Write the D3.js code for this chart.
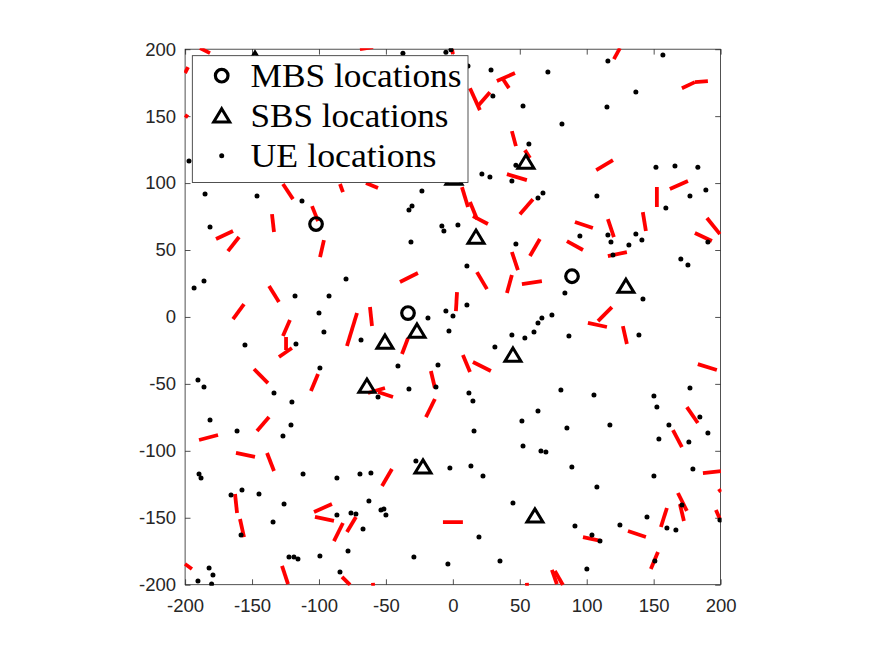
<!DOCTYPE html>
<html><head><meta charset="utf-8">
<script src="https://cdn.jsdelivr.net/npm/d3@7"></script>
<style>body{margin:0;background:#fff}svg{display:block}</style>
</head><body>
<svg id="chart" width="875" height="657"></svg>
<script>
const xTickValues = [-200,-150,-100,-50,0,50,100,150,200];
const yTickValues = [-200,-150,-100,-50,0,50,100,150,200];
const legendLabels = ["MBS locations","SBS locations","UE locations"];

const mbsLocations = [[-102.2,69.4],[-33.5,2.9],[89.0,30.4]];
const sbsLocations = [[54.6,115.7],[17.3,59.7],[-26.8,-10.5],[-50.7,-18.7],[44.9,-28.4],
  [-64.2,-51.6],[-22.3,-112.0],[61.3,-148.6],[129.3,23.0],[0.8,103.7],[-147.8,192.6]];
const ueLocations = [
  [-197.1,116.4],[-185.1,91.8],[-146.3,90.3],[-112.7,86.6],[-181.4,67.1],
  [-37.3,197.0],[-5.2,197.8],[-1.4,199.5],[11.3,187.4],[28.5,184.4],[29.9,165.0],
  [52.4,157.5],[56.8,129.1],[47.1,113.4],[21.7,106.7],[27.7,104.5],[44.1,101.5],
  [-23.1,94.0],[-30.5,82.8],[-32.8,79.8],[-8.2,67.9],[-6.7,64.2],[3.8,68.6],[63.6,88.8],[67.3,92.5],
  [115.8,191.1],[156.9,195.6],[71.0,182.9],[136.7,168.0],[115.1,156.8],[81.5,144.1],
  [151.7,111.9],[165.9,112.7],[183.0,111.9],[189.0,94.8],[177.1,90.3],[159.1,81.3],[107.6,90.3],
  [-193.3,21.6],[-185.9,26.8],[-117.9,15.6],[-92.5,15.6],[-79.8,28.3],[-100.0,2.9],
  [-96.3,-11.3],[-155.3,-21.0],[-117.2,-20.2],[-68.6,-17.3],[-99.3,-38.2],
  [-190.4,-47.1],[-185.9,-52.4],[-133.6,-56.8],[-120.2,-63.6],
  [-31.3,55.9],[47.1,54.4],[10.5,38.0],[10.5,8.9],[-5.2,4.4],[0.1,0.7],[-18.6,-0.8],
  [-2.9,-10.5],[44.1,-13.5],[53.8,-15.8],[60.6,-11.3],[63.6,-4.6],[66.5,-0.8],
  [31.4,-22.5],[-41.0,-36.7],[-11.1,-35.9],[-32.8,-53.8],[-12.6,-52.4],[-55.9,-59.8],
  [12.0,-56.8],[15.0,-62.8],
  [94.9,60.4],[115.8,61.2],[118.1,55.9],[136.7,61.9],[141.2,57.4],[131.5,53.7],[119.6,46.2],
  [190.5,55.9],[170.3,43.2],[175.6,38.8],[83.7,17.8],[74.0,1.4],[142.0,13.4],[86.7,-14.3],
  [139.0,-13.5],[80.7,-54.6],[105.4,-58.3],[150.2,-59.1],[177.1,-53.1],[152.4,-67.3],
  [-181.4,-77.0],[-161.2,-85.2],[-120.9,-80.7],[-126.9,-88.9],[-189.6,-117.3],[-188.1,-120.3],
  [-111.9,-117.3],[-86.6,-120.3],[-69.4,-117.3],[-165.7,-133.0],[-157.5,-129.3],[-144.8,-132.2],
  [-126.1,-139.7],[-134.3,-153.2],[-158.2,-162.9],[-86.6,-147.9],[-76.1,-146.4],[-72.4,-147.2],
  [-67.1,-158.4],[-78.3,-174.8],[-122.4,-179.3],[-118.7,-179.3],[-115.7,-180.8],[-99.3,-178.6],
  [-182.1,-187.5],[-179.2,-192.7],[-190.4,-197.2],[-180.2,-199.5],[-84.3,-190.5],
  [-61.2,-116.6],[-27.6,-107.6],[-2.2,-112.8],[13.5,-111.3],[22.5,-118.8],[15.8,-85.2],
  [51.6,-77.7],[63.6,-70.3],[52.4,-96.4],[65.8,-100.1],[69.5,-100.9],[-62.7,-137.5],
  [-53.7,-144.2],[-51.5,-143.4],[-50.0,-147.9],[44.9,-139.0],[19.5,-164.4],[-29.1,-179.3],
  [-3.7,-184.5],[35.2,-182.3],
  [184.5,-74.8],[161.4,-80.7],[85.2,-83.0],[117.3,-80.7],[190.5,-86.7],[153.9,-91.2],
  [176.3,-93.4],[88.9,-112.1],[179.3,-113.6],[150.2,-118.8],[107.6,-127.0],[171.1,-140.5],
  [145.0,-149.4],[159.9,-157.7],[166.6,-159.1],[91.2,-156.2],[103.9,-162.9],[109.9,-167.4],
  [124.8,-155.4],[199.5,-151.7],[150.9,-182.3],[100.1,-188.3]
];
// red dashed boundary pieces: [x1, y1, x2, y2]
const boundaryDashes = [
  [-188.9,200.8,-181.4,197.1],[-197.8,186.6,-200.1,182.2],[-200.1,150.8,-197.8,149.3],
  [-126.9,99.3,-119.4,88.0],[-84.3,99.3,-82.1,93.3],[-105.2,82.8,-100.7,71.6],[-135.1,76.8,-133.6,63.4],
  [-69.4,200.1,-59.6,201.6],[-0.7,200.1,0.1,196.3],[32.9,176.2,46.4,182.2],[37.4,177.7,41.9,170.9],
  [12.8,170.9,20.2,154.5],[18.7,157.5,27.7,167.9],[44.1,138.8,47.1,127.6],[40.4,106.7,55.3,102.2],
  [53.8,124.6,57.6,118.7],[6.8,97.0,11.3,82.1],[12.8,85.8,18.0,73.1],[15.0,75.3,26.2,69.4],
  [50.1,76.8,59.8,88.0],[-64.9,100.0,-55.9,96.3],
  [120.3,192.6,124.8,200.8],[171.1,170.9,180.8,175.4],[180.8,175.4,190.5,176.2],
  [107.1,109.7,119.6,117.2],[162.1,95.5,175.6,101.5],[152.4,97.0,152.4,82.1],[141.9,78.3,144.2,64.2],
  [91.2,70.9,104.6,66.4],[115.8,73.1,120.3,59.7],[189.8,73.9,199.5,61.9],
  [-176.9,58.2,-164.2,64.2],[-168.0,49.2,-159.7,59.7],[-99.2,44.7,-96.3,57.4],[-137.3,23.1,-129.9,11.1],
  [-164.2,-1.6,-156.0,9.6],[-121.7,-2.3,-126.9,-14.3],[-124.6,-15.0,-124.6,-24.7],[-129.9,-29.9,-120.2,-23.2],
  [-71.6,2.9,-79.1,-21.7],[-148.5,-38.9,-138.1,-49.4],[-100.7,-42.6,-106.0,-55.3],
  [-39.5,26.1,-26.1,32.8],[18.0,33.5,25.5,20.8],[44.1,48.5,48.6,35.0],[57.6,45.5,65.0,58.2],
  [40.4,17.9,44.1,31.3],[51.6,24.6,66.5,26.8],[3.1,18.6,2.3,4.4],[-61.9,7.4,-60.4,-6.8],
  [-38.0,-27.7,-33.5,-15.8],[7.5,-28.4,12.8,-41.1],[15.0,-33.7,28.4,-40.4],[-16.4,-40.4,-13.4,-53.1],
  [-20.1,-74.8,-13.4,-61.3],[-63.4,-56.8,-50.7,-53.1],[-55.9,-56.1,-44.7,-59.8],
  [180.8,62.7,193.5,56.7],[85.2,56.7,97.2,50.0],[115.8,45.5,130.0,48.5],[108.4,-3.1,118.8,7.4],
  [100.9,-4.5,115.1,-7.5],[127.0,-6.8,130.0,-20.2],[183.0,-35.2,197.2,-39.6],
  [-146.3,-85.2,-137.3,-74.8],[-189.6,-91.9,-175.4,-88.2],[-162.0,-101.6,-147.8,-104.6],
  [-138.8,-101.6,-133.6,-115.1],[-162.7,-132.3,-161.2,-146.4],[-159.0,-150.9,-156.0,-164.4],
  [-103.7,-145.7,-90.3,-139.7],[-103.0,-149.4,-88.8,-152.4],[-82.1,-153.9,-88.8,-167.4],
  [-72.4,-149.4,-79.1,-160.6],[-200.1,-184.5,-194.9,-188.3],[-127.6,-186.0,-123.1,-199.5],
  [-82.8,-194.2,-76.8,-200.2],[-52.9,-126.3,-45.5,-113.6],[-7.4,-153.2,7.5,-153.2],
  [-59.7,-198.7,-59.5,-201.0],[55.3,-198.7,55.5,-201.0],
  [174.8,-67.3,183.0,-79.2],[164.4,-84.5,171.1,-97.2],[186.8,-116.6,200.2,-115.1],
  [198.7,-128.5,200.2,-130.8],[168.1,-131.5,174.8,-144.9],[169.6,-139.7,172.6,-152.4],
  [159.9,-142.7,155.4,-156.9],[196.5,-144.2,199.5,-150.9],[130.8,-159.9,144.2,-164.4],
  [97.2,-164.4,111.3,-167.4],[153.2,-175.6,147.9,-188.3],[74.0,-189.0,77.7,-199.5],
  [76.2,-189.8,82.2,-200.2]
];

const svg = d3.select("#chart");
const pLeft = 185.1, pRight = 720.6, pTop = 49.2, pBottom = 584.7;
const x = d3.scaleLinear().domain([-200,200]).range([pLeft,pRight]);
const y = d3.scaleLinear().domain([-200,200]).range([pBottom,pTop]);
const axisColor = "#262626";
const tickLen = 5.4;

svg.append("defs").append("clipPath").attr("id","clip")
  .append("rect").attr("x",pLeft-1).attr("y",pTop-1).attr("width",pRight-pLeft+2).attr("height",pBottom-pTop+2);

svg.append("rect").attr("x",pLeft).attr("y",pTop).attr("width",pRight-pLeft).attr("height",pBottom-pTop)
  .attr("fill","#fff").attr("stroke","none");

function styleAxis(g, showLabels){
  g.select(".domain").remove();
  g.selectAll(".tick line").attr("stroke",axisColor).attr("stroke-width",0.8);
  g.selectAll(".tick text").attr("fill",axisColor)
    .style("font-family","'Liberation Sans', Arial, sans-serif").style("font-size","18.5px");
  if(!showLabels) g.selectAll(".tick text").remove();
}
const fmt = d => d < 0 ? "-" + Math.abs(d) : String(d);
svg.append("g").attr("transform",`translate(0,${pBottom})`)
  .call(d3.axisBottom(x).tickValues(xTickValues).tickSize(-tickLen).tickPadding(14).tickFormat(fmt))
  .call(g=>styleAxis(g,true));
svg.append("g").attr("transform",`translate(0,${pTop})`)
  .call(d3.axisTop(x).tickValues(xTickValues).tickSize(-tickLen).tickFormat(fmt))
  .call(g=>styleAxis(g,false));
svg.append("g").attr("transform",`translate(${pLeft},0)`)
  .call(d3.axisLeft(y).tickValues(yTickValues).tickSize(-tickLen).tickPadding(9).tickFormat(fmt))
  .call(g=>styleAxis(g,true));
svg.append("g").attr("transform",`translate(${pRight},0)`)
  .call(d3.axisRight(y).tickValues(yTickValues).tickSize(-tickLen).tickFormat(fmt))
  .call(g=>styleAxis(g,false));

svg.append("rect").attr("x",pLeft).attr("y",pTop).attr("width",pRight-pLeft).attr("height",pBottom-pTop)
  .attr("fill","none").attr("stroke",axisColor).attr("stroke-width",0.8);

const plot = svg.append("g").attr("clip-path","url(#clip)");

plot.selectAll("line.dash").data(boundaryDashes).join("line").attr("class","dash")
  .attr("x1",d=>x(d[0])).attr("y1",d=>y(d[1])).attr("x2",d=>x(d[2])).attr("y2",d=>y(d[3]))
  .attr("stroke","#ff0000").attr("stroke-width",3.8).attr("stroke-linecap","butt");

plot.selectAll("circle.ue").data(ueLocations).join("circle").attr("class","ue")
  .attr("cx",d=>x(d[0])).attr("cy",d=>y(d[1])).attr("r",2.5).attr("fill","#000");

const triPath = "M0,-7L8,6.2L-8,6.2Z";
plot.selectAll("path.sbs").data(sbsLocations).join("path").attr("class","sbs")
  .attr("transform",d=>`translate(${x(d[0])},${y(d[1])})`).attr("d",triPath)
  .attr("fill","none").attr("stroke","#000").attr("stroke-width",3).attr("stroke-linejoin","miter");

plot.selectAll("circle.mbs").data(mbsLocations).join("circle").attr("class","mbs")
  .attr("cx",d=>x(d[0])).attr("cy",d=>y(d[1])).attr("r",6.3)
  .attr("fill","none").attr("stroke","#000").attr("stroke-width",3.2);

// legend
const lg = svg.append("g");
lg.append("rect").attr("x",192.3).attr("y",55.7).attr("width",468-192.3).attr("height",182.5-55.7)
  .attr("fill","#fff").attr("stroke",axisColor).attr("stroke-width",0.8);
const rowY = [75.7,115.7,155.7];
const textWidths = [211,198,186];
const mx = 221.7;
lg.append("circle").attr("cx",mx).attr("cy",rowY[0]).attr("r",6.3)
  .attr("fill","none").attr("stroke","#000").attr("stroke-width",3.2);
lg.append("path").attr("transform",`translate(${mx},${rowY[1]})`).attr("d",triPath)
  .attr("fill","none").attr("stroke","#000").attr("stroke-width",3);
lg.append("circle").attr("cx",mx).attr("cy",rowY[2]).attr("r",2.5).attr("fill","#000");
lg.selectAll("text").data(legendLabels).join("text")
  .attr("x",250.5).attr("y",(d,i)=>rowY[i]).attr("dy","0.35em")
  .attr("textLength",(d,i)=>textWidths[i]).attr("lengthAdjust","spacingAndGlyphs")
  .style("font-family","'Liberation Serif','Times New Roman',serif").style("font-size","33px")
  .attr("fill","#000").text(d=>d);
</script>
</body></html>
